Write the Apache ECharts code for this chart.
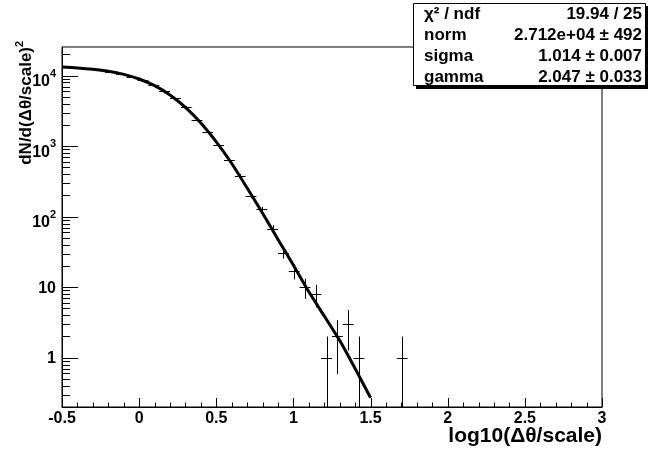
<!DOCTYPE html>
<html><head><meta charset="utf-8">
<script src="https://cdn.jsdelivr.net/npm/echarts/dist/echarts.min.js"></script>
<style>html,body{margin:0;padding:0;background:#fff}#c{width:649px;height:456px}</style>
</head><body><div id="c"></div>
<script>
// histogram bin centres (bin width 0.07) and counts
const binCenters = [-0.465,-0.395,-0.325,-0.255,-0.185,-0.115,-0.045,0.025,0.095,0.165,0.235,0.305,0.375,0.445,0.515,0.585,0.655,0.725,0.795,0.865,0.935,1.005,1.075,1.145,1.215,1.285,1.355,1.425,1.705];
const counts = [13170,12840,12460,11980,11380,10600,9720,8540,7300,5970,4800,3620,2360,1610,1045,640,382,196,127,68,31,17,10,8,1,2,3,1,1];
const binHalfWidth = 0.035;
// fit curve
const fitX = [-0.5,-0.4,-0.3,-0.2,-0.1,0.0,0.1,0.2,0.3,0.4,0.5,0.6,0.7,0.8,0.9,1.0,1.1,1.2,1.3,1.4,1.5];
const fitY = [13220,12860,12320,11530,10420,8970,7210,5320,3550,2130,1150,568,255,112,47.5,20.5,8.6,3.9,1.75,0.7,0.27];
// axes
const xMin = -0.5, xMax = 3, xStep = 0.5;
const yMin = 0.2, yMax = 25500;
const yDecades = [-1,0,1,2,3,4];
const yLabelText = {0:'1', 1:'10'};
const xTitle = 'log10(\u0394\u03b8/scale)';
const yTitle = 'dN/d(\u0394\u03b8/scale)';
const yTitleSup = '2';
// stats box
const statNames = ['\u03c7\u00b2 / ndf','norm','sigma','gamma'];
const statValues = ['19.94 / 25','2.712e+04 \u00b1 492','1.014 \u00b1 0.007','2.047 \u00b1 0.033'];

const FONT = '"Liberation Sans", Arial, Helvetica, sans-serif';
const chart = echarts.init(document.getElementById('c'), null, {renderer:'canvas'});

function px(v){ return Math.round(v) + 0.5; }

const option = {
  animation: false,
  backgroundColor: '#fff',
  grid: {left: 62, top: 47, width: 540, height: 360, show: true, borderColor: '#000', borderWidth: 1, backgroundColor: 'transparent'},
  xAxis: {
    type: 'value', min: xMin, max: xMax, interval: xStep,
    axisLine: {show: true, onZero: false, lineStyle: {color: '#000', width: 1}},
    axisTick: {show: false}, splitLine: {show: false},
    axisLabel: {color: '#000', fontFamily: FONT, fontWeight: 'bold', fontSize: 16, margin: 4,
      formatter: v => String(Math.round(v*10)/10)}
  },
  yAxis: {
    type: 'log', logBase: 10, min: yMin, max: yMax,
    axisLine: {show: true, onZero: false, lineStyle: {color: '#000', width: 1}},
    axisTick: {show: false}, splitLine: {show: false}, axisLabel: {show: false}
  },
  series: [
    {
      type: 'custom', coordinateSystem: 'cartesian2d', silent: true, z: 3, clip: false,
      data: [[0, 1]],
      renderItem: (params, api) => {
        const ch = [];
        const o = api.coord([xMin, yMin]);
        const yb = o[1], xl = o[0];
        const line = (x1,y1,x2,y2) => ch.push({type:'line', shape:{x1,y1,x2,y2}, style:{stroke:'#000', lineWidth:1}});
        // x ticks
        for (let k = 0; k <= 35; k++) {
          const v = xMin + k*0.1;
          const p = px(api.coord([v, yMin])[0]);
          const len = (k % 5 === 0) ? 9 : 4.5;
          line(p, yb, p, yb - len);
        }
        // y ticks + labels
        yDecades.forEach(d => {
          for (let m = 1; m <= 9; m++) {
            const v = m * Math.pow(10, d);
            if (v < yMin || v > yMax) continue;
            const p = px(api.coord([xMin, v])[1]);
            line(xl, p, xl + (m === 1 ? 16 : 8), p);
          }
          const v1 = Math.pow(10, d);
          if (v1 >= yMin && v1 <= yMax) {
            const p = api.coord([xMin, v1])[1];
            if (yLabelText[d] !== undefined) {
              ch.push({type:'text', style:{text: yLabelText[d], x: 56, y: p + 1, align:'right', verticalAlign:'middle', fill:'#000', font: 'bold 16px ' + FONT}});
            } else {
              ch.push({type:'text', style:{text: '10', x: 50, y: p + 6, align:'right', verticalAlign:'middle', fill:'#000', font: 'bold 16px ' + FONT}});
              ch.push({type:'text', style:{text: String(d), x: 50, y: p - 2, align:'left', verticalAlign:'middle', fill:'#000', font: 'bold 11px ' + FONT}});
            }
          }
        });
        return {type:'group', children: ch};
      }
    },
    {
      type: 'custom', coordinateSystem: 'cartesian2d', silent: true, z: 4, clip: true,
      data: binCenters.map((c, i) => [c, counts[i]]),
      renderItem: (params, api) => {
        const x = api.value(0), y = api.value(1);
        const e = Math.sqrt(y);
        const c = api.coord([x, y]);
        const l = api.coord([x - binHalfWidth, y]);
        const r = api.coord([x + binHalfWidth, y]);
        const lo = api.coord([x, Math.max(y - e, yMin * 0.5)]);
        const hi = api.coord([x, y + e]);
        const yy = px(c[1]), xx = px(c[0]);
        return {type:'group', children:[
          {type:'line', shape:{x1: l[0], y1: yy, x2: r[0], y2: yy}, style:{stroke:'#000', lineWidth:1}},
          {type:'line', shape:{x1: xx, y1: lo[1], x2: xx, y2: hi[1]}, style:{stroke:'#000', lineWidth:1}}
        ]};
      }
    },
    {
      type: 'line', data: fitX.map((x, i) => [x, fitY[i]]), smooth: 0.3, showSymbol: false, silent: true, z: 5,
      lineStyle: {color: '#000', width: 3}
    }
  ],
  graphic: [
    {type:'text', right: 47, top: 426, style:{text: xTitle, fill:'#000', font: 'bold 21px ' + FONT}},
    {type:'group', x: 26, y: 47, rotation: Math.PI/2, children: [
      {type:'text', style:{text: yTitle, x: 0, y: 0, align:'right', verticalAlign:'middle', fill:'#000', font: 'bold 17px ' + FONT}},
      {type:'text', style:{text: yTitleSup, x: 0, y: -6, align:'left', verticalAlign:'middle', fill:'#000', font: 'bold 11px ' + FONT}}
    ]},
    {type:'group', z: 100, children: [
      {type:'rect', shape:{x: 416, y: 6, width: 232, height: 83}, style:{fill:'#000'}},
      {type:'rect', shape:{x: 413.5, y: 3.5, width: 232, height: 82}, style:{fill:'#fff', stroke:'#000', lineWidth:1}},
      ...statNames.map((s, i) => ({type:'text', style:{text: s, x: 424, y: 14.5 + i*21, align:'left', verticalAlign:'middle', fill:'#000', font:'bold 17px ' + FONT}})),
      ...statValues.map((s, i) => ({type:'text', style:{text: s, x: 642, y: 14.5 + i*21, align:'right', verticalAlign:'middle', fill:'#000', font:'bold 17px ' + FONT}}))
    ]}
  ]
};
chart.setOption(option);
</script>
</body></html>
